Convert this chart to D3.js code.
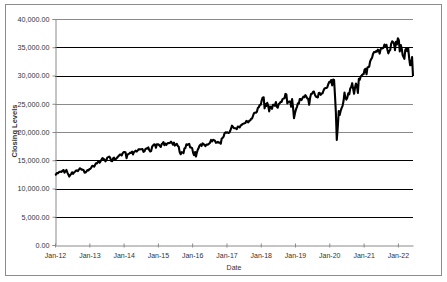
<!DOCTYPE html>
<html>
<head>
<meta charset="utf-8">
<script src="https://cdn.jsdelivr.net/npm/d3@7"></script>
<style>
  body { margin: 0; background: #fff; }
  text { font-family: "Liberation Sans", Arial, sans-serif; }
</style>
</head>
<body>
<svg id="chart" width="447" height="282"></svg>
<script>
// closing levels, roughly the 1st, 11th and 21st of every month
const close2012 = [12397,12462,12720, 12716,12890,12950, 12980,12922,13170, 13264,12805,13029, 13279,12855,12502, 12118,12411,12574,
                   12871,12604,12822, 12976,13165,13203, 13090,13323,13579, 13482,13326,13345, 13232,12815,12836, 13021,13248,13190];
const close2013 = [13412,13488,13712, 14009,13971,13880, 14089,14447,14421, 14662,14865,14567, 14831,15118,15387, 15254,15122,14800,
                   14975,15460,15545, 15658,15419,14897, 14833,15326,15451, 15133,15237,15392, 15615,15783,16009, 16008,15843,16221];
const close2014 = [16441,16437,16414, 15373,15995,16103, 16168,16340,16302, 16532,16027,16449, 16558,16695,16533, 16743,16945,16921,
                   16956,16943,16977, 16493,16569,16979, 17098,17050,17279, 16804,16544,16615, 17391,17614,17810, 17776,17200,17804];
const close2015 = [17832,17737,17554, 17361,17868,17985, 18203,17663,17960, 17698,17977,18034, 18024,18105,18285, 18040,17765,18119,
                   17596,17760,17919, 17550,17402,16460, 16058,16433,16384, 16272,17084,17168, 17828,17702,17823, 17888,17265,17252];
const close2016 = [17149,16349,15882, 16449,15660,16392, 16865,17213,17623, 17792,17556,17982, 17891,17711,17500, 17789,17731,17830,
                   17949,18147,18595, 18355,18613,18552, 18419,18085,18129, 18253,18128,18145, 17930,18847,18956, 19170,19756,19942];
const close2017 = [19881,19954,19827, 19890,20269,20743, 21115,20902,20668, 20663,20651,20523, 20950,20919,20804, 21144,21235,21410,
                   21479,21532,21580, 21963,21858,21703, 21988,22057,22359, 22405,22872,23329, 23435,23422,23590, 24231,24386,24782];
const close2018 = [24824,25575,26071, 26149,24190,24964, 24608,25178,24682, 23644,24483,24462, 24099,24831,24834, 24635,25316,24461,
                   24307,24924,25058, 25333,25313,25822, 25916,25971,26743, 26651,25052,25317, 25380,25387,24464, 25826,24370,22445];
const close2019 = [23346,23996,24404, 25063,25053,25850, 25819,25650,25962, 26258,26157,26511, 26307,25942,25877, 24819,26048,26719,
                   26786,27088,27171, 26583,26287,26202, 26118,26910,26935, 26573,26816,26827, 27347,27691,27766, 27783,27911,28455];
const close2020 = [28868,28823,29196, 28256,29276,29219, 26703,23553,18600, 20943,23719,23019, 23724,24221,24575, 25475,26990,26025,
                   25734,26075,26840, 26665,27687,27930, 28646,27665,26763, 27816,28586,28211, 26925,29420,29263, 29823,29999,30216];
const close2021 = [30223,31008,31176, 30212,31430,31494, 31536,32485,32862, 33153,33800,34137, 34113,34269,34208, 34575,34466,33876,
                   34633,34870,34798, 34935,35485,35120, 35443,34607,33919, 34326,34496,35603, 36052,35921,35601, 34483,35970,35493];
const close2022 = [36585,36252,34265, 35405,34738,33597, 33294,32945,34552, 34818,34308,34792, 33061,31834,31880, 33248,29888];

const closeYears = [2012,2013,2014,2015,2016,2017,2018,2019,2020,2021,2022];
const closeByYear = [close2012,close2013,close2014,close2015,close2016,close2017,close2018,close2019,close2020,close2021,close2022];
const sampleDays = [1, 11, 21];

const yTicks = [0,5000,10000,15000,20000,25000,30000,35000,40000];
const greyGrid = [40000,25000,20000];

const data = [];
closeByYear.forEach((arr, k) => {
  arr.forEach((v, i) => {
    data.push({ date: new Date(closeYears[k], Math.floor(i / 3), sampleDays[i % 3]), value: v });
  });
});

const margin = { top: 19, right: 34, bottom: 37, left: 55 },
      W = 447, H = 282,
      width = W - margin.left - margin.right,
      height = H - margin.top - margin.bottom;

const svg = d3.select("#chart");

// outer chart border
svg.append("rect")
  .attr("x", 5.5).attr("y", 4.5)
  .attr("width", 436).attr("height", 271)
  .attr("fill", "#fff")
  .attr("stroke", "#8c8c8c")
  .attr("stroke-width", 1);

const g = svg.append("g")
  .attr("transform", "translate(" + margin.left + "," + margin.top + ")");

const x = d3.scaleTime()
  .domain([new Date(2012, 0, 1), d3.max(data, d => d.date)])
  .range([0, width]);

const y = d3.scaleLinear()
  .domain([0, 40000])
  .range([height, 0]);

// gridlines
g.selectAll(".grid")
  .data(yTicks.filter(d => d > 0))
  .enter().append("line")
    .attr("x1", 0).attr("x2", width)
    .attr("y1", d => Math.round(y(d)) + 0.5)
    .attr("y2", d => Math.round(y(d)) + 0.5)
    .attr("stroke", d => greyGrid.includes(d) ? "#8a8a8a" : "#000")
    .attr("stroke-width", 1);

// y axis
const yAxis = d3.axisLeft(y)
  .tickValues(yTicks)
  .tickSize(3)
  .tickFormat(d3.format(",.2f"));

const gY = g.append("g")
  .attr("transform", "translate(0.5,0)")
  .call(yAxis);
gY.select(".domain").attr("stroke", "#8a8a8a");
gY.selectAll(".tick line").attr("stroke", "#8a8a8a");
gY.selectAll("text")
  .attr("x", -6)
  .attr("font-size", 7.2)
  .attr("fill", "#333");

// x axis
const xAxis = d3.axisBottom(x)
  .ticks(d3.timeYear.every(1))
  .tickSizeInner(2)
  .tickSizeOuter(0)
  .tickFormat(d3.timeFormat("%b-%y"));

const gX = g.append("g")
  .attr("transform", "translate(0," + (Math.round(height) + 0.5) + ")")
  .call(xAxis);
gX.select(".domain").attr("stroke", "#8a8a8a");
gX.selectAll(".tick line").attr("stroke", "#8a8a8a").attr("y1", -2).attr("y2", 2);
gX.selectAll("text")
  .attr("y", 8)
  .attr("font-size", 7)
  .attr("fill", "#333");

// series
const line = d3.line()
  .x(d => x(d.date))
  .y(d => y(d.value));

g.append("path")
  .datum(data)
  .attr("fill", "none")
  .attr("stroke", "#000")
  .attr("stroke-width", 2.1)
  .attr("stroke-linejoin", "round")
  .attr("d", line);

// axis titles
svg.append("text")
  .attr("transform", "translate(17,131) rotate(-90)")
  .attr("text-anchor", "middle")
  .attr("font-size", 7.5)
  .attr("font-weight", "bold")
  .attr("fill", "#333")
  .text("Closing Levels");

svg.append("text")
  .attr("x", margin.left + width / 2)
  .attr("y", 270)
  .attr("text-anchor", "middle")
  .attr("font-size", 7)
  .attr("fill", "#333")
  .text("Date");
</script>
</body>
</html>
